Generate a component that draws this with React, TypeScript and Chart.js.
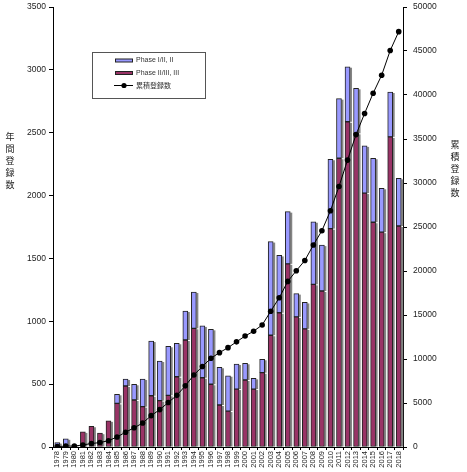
import React, { useEffect, useRef } from "react";
import { Chart, registerables } from "chart.js";

Chart.register(...registerables);

const years: string[] = [
  "1978","1979","1980","1981","1982","1983","1984","1985","1986","1987",
  "1988","1989","1990","1991","1992","1993","1994","1995","1996","1997",
  "1998","1999","2000","2001","2002","2003","2004","2005","2006","2007",
  "2008","2009","2010","2011","2012","2013","2014","2015","2016","2017","2018",
];

// Phase II/III, III (maroon, bottom of stack)
const phase23: number[] = [
  5, 10, 5, 120, 165, 110, 208, 347, 485, 374,
  321, 408, 369, 411, 559, 851, 944, 551, 499, 334,
  286, 461, 533, 461, 591, 889, 1068, 1457, 1035, 940,
  1294, 1241, 1737, 2297, 2587, 2495, 2020, 1788, 1709, 2467, 1758,
];

// Phase I/II, II (blue, top of stack)
const phase12: number[] = [
  30, 55, 5, 0, 0, 0, 0, 72, 56, 125,
  220, 435, 315, 390, 266, 231, 289, 412, 437, 300,
  281, 199, 133, 85, 107, 745, 456, 415, 185, 210,
  498, 365, 552, 474, 438, 358, 375, 509, 349, 357, 379,
];

// 累積登録数 (right axis)
const cumulative: number[] = [
  40, 105, 110, 230, 395, 505, 715, 1140, 1680, 2180,
  2720, 3560, 4250, 5050, 5870, 6950, 8180, 9150, 10080, 10720,
  11290, 11950, 12610, 13160, 13860, 15420, 16960, 18820, 20030, 21200,
  22950, 24580, 26850, 29600, 32600, 35500, 37900, 40200, 42250, 45050, 47200,
];

const leftTitle = "年間登録数";
const rightTitle = "累積登録数";
const label12 = "Phase I/II, II";
const label23 = "Phase II/III, III";
const labelCum = "累積登録数";

const BLUE = "#9999FF";
const MAROON = "#993366";
const FONT = "Arial, 'Liberation Sans', sans-serif";
const CJK = "'Noto Sans CJK JP', sans-serif";

const shadowPlugin = {
  id: "barShadow",
  beforeDatasetsDraw(chart: any) {
    const ctx = chart.ctx;
    ctx.save();
    ctx.fillStyle = "rgba(110,110,110,0.85)";
    chart.data.datasets.forEach((ds: any, i: number) => {
      if (ds.type === "line") return;
      const meta = chart.getDatasetMeta(i);
      meta.data.forEach((el: any) => {
        const p = el.getProps(["x", "y", "base", "width"], true);
        const h = p.base - p.y;
        if (h <= 0.5) return;
        ctx.fillRect(p.x + p.width / 2, p.y + 1, 2, h - 1);
      });
    });
    ctx.restore();
  },
};

const decorPlugin = {
  id: "decor",
  afterDraw(chart: any) {
    const ctx = chart.ctx;
    ctx.save();
    // axis titles (vertical, one char per line)
    ctx.fillStyle = "#222";
    ctx.font = `9px ${CJK}`;
    ctx.textAlign = "center";
    ctx.textBaseline = "middle";
    Array.from(leftTitle).forEach((c, i) => ctx.fillText(c, 10, 137 + i * 12));
    Array.from(rightTitle).forEach((c, i) => ctx.fillText(c, 455, 145 + i * 12));

    // legend box
    const bx = 92, by = 52, bw = 113, bh = 46;
    ctx.fillStyle = "#fff";
    ctx.fillRect(bx, by, bw, bh);
    ctx.strokeStyle = "#555";
    ctx.lineWidth = 1;
    ctx.strokeRect(bx + 0.5, by + 0.5, bw, bh);

    const sx = 115, sw = 18, tx = 136;
    const rows = [
      { y: 60.5, type: "bar", color: BLUE, text: label12, font: FONT },
      { y: 73, type: "bar", color: MAROON, text: label23, font: FONT },
      { y: 85.5, type: "line", color: "#000", text: labelCum, font: CJK },
    ];
    rows.forEach((r) => {
      if (r.type === "bar") {
        ctx.fillStyle = "#222";
        ctx.fillRect(sx, r.y - 2, sw, 4);
        ctx.fillStyle = r.color;
        ctx.fillRect(sx + 1, r.y - 1, sw - 2, 2);
      } else {
        ctx.strokeStyle = "#000";
        ctx.beginPath();
        ctx.moveTo(sx - 1, r.y);
        ctx.lineTo(sx + sw, r.y);
        ctx.stroke();
        ctx.fillStyle = "#000";
        ctx.beginPath();
        ctx.arc(sx + sw / 2, r.y, 2.6, 0, Math.PI * 2);
        ctx.fill();
      }
      ctx.fillStyle = "#333";
      ctx.font = `7px ${r.font}`;
      ctx.textAlign = "left";
      ctx.textBaseline = "middle";
      ctx.fillText(r.text, tx, r.y);
    });
    ctx.restore();
  },
};

export default function App() {
  const ref = useRef<HTMLCanvasElement | null>(null);

  useEffect(() => {
    document.body.style.margin = "0";
    if (!ref.current) return;
    const chart = new Chart(ref.current, {
      type: "bar",
      data: {
        labels: years,
        datasets: [
          {
            type: "line",
            label: labelCum,
            data: cumulative,
            yAxisID: "y1",
            borderColor: "#000",
            borderWidth: 1,
            backgroundColor: "#000",
            pointBackgroundColor: "#000",
            pointBorderColor: "#000",
            pointRadius: 2.8,
            pointBorderWidth: 0,
            tension: 0,
            order: 0,
          } as any,
          {
            type: "bar",
            label: label23,
            data: phase23,
            yAxisID: "y",
            backgroundColor: MAROON,
            borderColor: "#222",
            borderWidth: 1,
            borderSkipped: false,
            barThickness: 5,
            stack: "s",
            order: 1,
          },
          {
            type: "bar",
            label: label12,
            data: phase12,
            yAxisID: "y",
            backgroundColor: BLUE,
            borderColor: "#222",
            borderWidth: 1,
            borderSkipped: false,
            barThickness: 5,
            stack: "s",
            order: 1,
          },
        ],
      },
      options: {
        responsive: false,
        animation: false,
        events: [],
        layout: { padding: { top: 7, left: 0, right: 0, bottom: 0 } },
        plugins: {
          legend: { display: false },
          tooltip: { enabled: false },
          title: { display: false },
        },
        scales: {
          x: {
            stacked: true,
            offset: true,
            grid: {
              display: true,
              drawOnChartArea: false,
              tickLength: 3,
              color: "#000",
              offset: true,
            },
            border: { display: true, color: "#000", width: 1 },
            ticks: {
              autoSkip: false,
              maxRotation: 90,
              minRotation: 90,
              padding: 1,
              color: "#222",
              font: { size: 7.5, family: FONT },
            },
            afterFit: (s: any) => {
              s.height = 25;
              s.paddingLeft = 0;
              s.paddingRight = 0;
            },
          },
          y: {
            type: "linear",
            position: "left",
            stacked: true,
            min: 0,
            max: 3500,
            grid: { drawOnChartArea: false, tickLength: 4, color: "#000" },
            border: { display: true, color: "#000", width: 1 },
            ticks: {
              stepSize: 500,
              padding: 3,
              color: "#222",
              font: { size: 8.5, family: FONT },
              callback: (v: any) => String(v),
            },
            afterFit: (s: any) => {
              s.width = 53;
              s.paddingTop = 0;
              s.paddingBottom = 0;
            },
          },
          y1: {
            type: "linear",
            position: "right",
            min: 0,
            max: 50000,
            grid: { drawOnChartArea: false, tickLength: 4, color: "#000" },
            border: { display: true, color: "#000", width: 1 },
            ticks: {
              stepSize: 5000,
              padding: 6,
              color: "#222",
              font: { size: 8.5, family: FONT },
              callback: (v: any) => String(v),
            },
            afterFit: (s: any) => {
              s.width = 64;
              s.paddingTop = 0;
              s.paddingBottom = 0;
            },
          },
        },
      },
      plugins: [shadowPlugin, decorPlugin],
    });
    return () => chart.destroy();
  }, []);

  return (
    <div style={{ position: "absolute", left: 0, top: 0, width: 467, height: 472, background: "#fff" }}>
      <canvas ref={ref} width={467} height={472} style={{ display: "block" }} />
    </div>
  );
}
